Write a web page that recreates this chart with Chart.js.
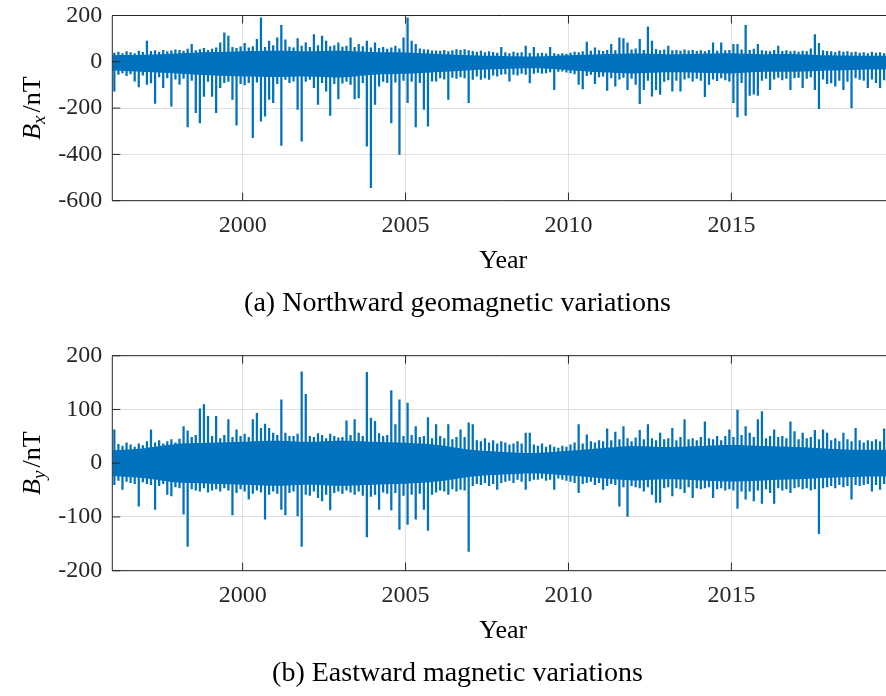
<!DOCTYPE html>
<html>
<head>
<meta charset="utf-8">
<script src="https://cdn.jsdelivr.net/npm/chart.js@4.4.0/dist/chart.umd.min.js"></script>
<style>
  html, body { margin: 0; padding: 0; background: #fff; width: 886px; height: 696px; overflow: hidden; }
  .panel { position: absolute; left: 0; width: 900px; }
  #wrapA { top: 0; height: 328px; }
  #wrapB { top: 328px; height: 368px; }
</style>
</head>
<body>
<div class="panel" id="wrapA"><canvas id="chartA" width="900" height="328"></canvas></div>
<div class="panel" id="wrapB"><canvas id="chartB" width="900" height="368"></canvas></div>
<script>
// ===== Data =====
// Min / max of each 1/8-year bin, 1996.0 .. 2020.0, one row per year
const binStart = 1996;
const binStep = 0.125;

const bxHi = [
  38, 42, 35, 44, 40, 36, 46, 41,
  89, 45, 48, 42, 50, 44, 47, 52,
  50, 46, 55, 75, 48, 53, 58, 50,
  55, 60, 82, 125, 111, 62, 58, 65,
  80, 60, 66, 97, 190, 62, 89, 70,
  104, 157, 95, 64, 60, 100, 68, 82,
  62, 118, 70, 111, 89, 66, 70, 82,
  64, 68, 104, 62, 75, 66, 89, 60,
  82, 58, 62, 55, 60, 68, 56, 104,
  190, 89, 75, 56, 53, 52, 47, 47,
  46, 50, 44, 48, 53, 50, 53, 48,
  45, 42, 46, 40, 44, 41, 38, 63,
  40, 36, 42, 38, 40, 68, 37, 63,
  36, 38, 34, 63, 35, 32, 36, 33,
  38, 42, 40, 44, 85, 46, 60, 48,
  45, 50, 75, 48, 104, 100, 82, 52,
  56, 97, 50, 151, 89, 54, 48, 52,
  68, 48, 50, 46, 52, 47, 50, 45,
  48, 44, 50, 82, 46, 82, 48, 50,
  75, 75, 52, 157, 50, 55, 75, 48,
  46, 44, 50, 68, 45, 48, 44, 46,
  42, 46, 44, 56, 118, 80, 48, 45,
  44, 40, 46, 42, 44, 40, 42, 38,
  40, 36, 42, 38, 40, 36, 42, 40
];
const bxLo = [
  -127, -55, -48, -60, -52, -84, -108, -58,
  -98, -91, -180, -65, -112, -70, -192, -75,
  -98, -72, -281, -80, -220, -264, -150, -85,
  -150, -220, -112, -90, -85, -163, -274, -95,
  -100, -90, -328, -88, -256, -235, -163, -177,
  -95, -361, -76, -90, -84, -206, -343, -85,
  -76, -112, -184, -90, -127, -232, -95, -160,
  -92, -85, -98, -160, -156, -90, -364, -544,
  -184, -105, -85, -90, -264, -88, -400, -80,
  -177, -85, -281, -90, -206, -278, -84, -84,
  -70, -75, -163, -68, -72, -65, -70, -177,
  -76, -62, -76, -70, -76, -58, -62, -55,
  -52, -84, -55, -58, -50, -54, -91, -50,
  -46, -50, -48, -44, -120, -42, -40, -45,
  -48, -52, -98, -117, -60, -55, -94, -65,
  -62, -124, -70, -105, -75, -68, -120, -72,
  -98, -181, -120, -80, -148, -120, -141, -85,
  -78, -127, -80, -127, -75, -70, -84, -72,
  -80, -151, -98, -75, -82, -70, -78, -85,
  -177, -238, -90, -232, -145, -140, -145, -80,
  -72, -120, -75, -68, -78, -72, -120, -70,
  -68, -112, -72, -65, -120, -203, -75, -95,
  -91, -105, -80, -120, -85, -199, -70, -76,
  -80, -112, -75, -90, -112, -78, -85, -80
];

const byHi = [
  62, 35, 32, 38, 34, 30, 36, 33,
  40, 62, 38, 42, 36, 40, 44, 38,
  45, 68, 60, 48, 52, 101, 109, 87,
  50, 87, 46, 52, 81, 48, 62, 50,
  54, 48, 81, 93, 65, 73, 65, 56,
  52, 118, 56, 50, 50, 54, 170, 128,
  50, 48, 55, 52, 46, 54, 50, 47,
  48, 79, 52, 81, 56, 50, 169, 84,
  78, 55, 50, 52, 135, 72, 118, 50,
  112, 52, 68, 48, 50, 85, 46, 72,
  50, 46, 72, 44, 48, 62, 48, 75,
  72, 42, 40, 46, 38, 42, 36, 40,
  38, 34, 36, 40, 36, 56, 56, 34,
  32, 36, 30, 34, 30, 28, 32, 30,
  34, 38, 72, 36, 53, 40, 38, 42,
  40, 64, 42, 58, 44, 68, 46, 40,
  47, 61, 44, 72, 46, 42, 56, 44,
  46, 65, 42, 48, 81, 44, 46, 42,
  48, 77, 46, 44, 50, 42, 50, 62,
  48, 99, 52, 68, 56, 48, 81, 96,
  46, 50, 62, 48, 50, 46, 77, 59,
  44, 56, 46, 48, 61, 44, 62, 56,
  42, 46, 40, 56, 44, 40, 65, 42,
  38, 42, 40, 44, 40, 64, 42, 40
];
const byLo = [
  -40, -32, -49, -34, -36, -38, -80, -35,
  -38, -40, -86, -42, -38, -58, -61, -44,
  -46, -95, -155, -48, -50, -52, -46, -54,
  -50, -48, -52, -46, -50, -96, -55, -48,
  -52, -67, -56, -50, -54, -104, -58, -52,
  -56, -86, -96, -55, -52, -98, -155, -58,
  -60, -52, -64, -70, -58, -87, -55, -52,
  -56, -50, -54, -58, -52, -60, -137, -62,
  -58, -86, -54, -56, -87, -55, -123, -60,
  -114, -58, -104, -56, -86, -125, -58, -54,
  -50, -52, -58, -48, -52, -49, -50, -164,
  -42, -38, -40, -36, -42, -38, -49, -36,
  -34, -32, -36, -30, -34, -49, -33, -30,
  -30, -28, -32, -30, -49, -28, -30, -32,
  -34, -36, -55, -38, -36, -34, -40, -36,
  -49, -42, -38, -40, -80, -44, -99, -42,
  -44, -46, -52, -44, -58, -73, -73, -46,
  -44, -61, -46, -48, -55, -44, -64, -46,
  -48, -46, -44, -64, -48, -46, -50, -48,
  -50, -84, -52, -67, -52, -70, -50, -75,
  -48, -55, -75, -46, -50, -48, -55, -46,
  -44, -48, -46, -50, -48, -131, -46, -44,
  -42, -46, -40, -44, -42, -67, -40, -42,
  -40, -38, -52, -40, -49, -38, -42, -40
];

// Dense core of the trace, one value per year boundary 1996 .. 2020
const coreYears = [1996, 1997, 1998, 1999, 2000, 2001, 2002, 2003, 2004, 2005, 2006, 2007, 2008,
  2009, 2010, 2011, 2012, 2013, 2014, 2015, 2016, 2017, 2018, 2019, 2020];
const bxCoreHi = [28, 30, 36, 42, 46, 48, 46, 48, 42, 40, 34, 28, 25, 23, 28, 33, 36, 33, 35, 37, 33, 33, 28, 26, 26];
const bxCoreLo = [-38, -44, -50, -58, -64, -66, -64, -68, -56, -52, -44, -36, -31, -28, -36, -45, -50, -45, -47, -50, -43, -43, -38, -34, -34];
const byCoreHi = [24, 28, 36, 38, 40, 42, 40, 42, 40, 38, 34, 25, 21, 19, 23, 28, 32, 30, 32, 34, 32, 30, 27, 25, 25];
const byCoreLo = [-24, -28, -36, -38, -40, -42, -40, -42, -40, -38, -34, -25, -21, -19, -23, -28, -32, -30, -32, -34, -32, -30, -27, -25, -25];

const yearTicks = [2000, 2005, 2010, 2015];
const bxTicks = [-600, -400, -200, 0, 200];
const byTicks = [-200, -100, 0, 100, 200];

// ===== Styling =====
const BLUE = '#0072BD';
const AXIS = '#262626';
const FONT = 'Liberation Serif';

// Box, inward ticks and the text around each axes (MATLAB look)
const framePlugin = {
  id: 'frame',
  afterDatasetsDraw(chart, args, opts) {
    const { ctx, chartArea: a, scales: { x, y } } = chart;
    ctx.save();
    ctx.strokeStyle = AXIS;
    ctx.lineWidth = 1;
    ctx.beginPath();
    ctx.rect(a.left, a.top, a.right - a.left, a.bottom - a.top);
    yearTicks.forEach(v => {
      const px = x.getPixelForValue(v);
      ctx.moveTo(px, a.bottom); ctx.lineTo(px, a.bottom - 8);
      ctx.moveTo(px, a.top); ctx.lineTo(px, a.top + 8);
    });
    opts.yTicks.forEach(v => {
      const py = y.getPixelForValue(v);
      ctx.moveTo(a.left, py); ctx.lineTo(a.left + 8, py);
      ctx.moveTo(a.right, py); ctx.lineTo(a.right - 8, py);
    });
    ctx.stroke();

    // x label and caption
    ctx.fillStyle = '#000';
    ctx.textAlign = 'center';
    ctx.textBaseline = 'alphabetic';
    ctx.font = `26px "${FONT}"`;
    ctx.fillText('Year', (a.left + a.right) / 2, a.bottom + 67);
    ctx.font = `28px "${FONT}"`;
    ctx.fillText(opts.caption, 457.5, a.bottom + 110);

    // rotated y label: B_sub /nT
    const cy = (a.top + a.bottom) / 2;
    ctx.translate(40, cy);
    ctx.rotate(-Math.PI / 2);
    ctx.textAlign = 'left';
    const fB = `italic 26px "${FONT}"`, fS = `italic 19px "${FONT}"`, fT = `26px "${FONT}"`;
    ctx.font = fB; const wB = ctx.measureText('B').width;
    ctx.font = fS; const wS = ctx.measureText(opts.sub).width;
    ctx.font = fT; const wT = ctx.measureText('/nT').width;
    let sx = -(wB + wS + 3 + wT) / 2;
    ctx.font = fB; ctx.fillText('B', sx, 0); sx += wB;
    ctx.font = fS; ctx.fillText(opts.sub, sx, 5); sx += wS + 3;
    ctx.font = fT; ctx.fillText('/nT', sx, 0);
    ctx.restore();
  }
};

function makePanel(canvasId, hi, lo, coreHi, coreLo, yMin, yMax, yStep, yTicks, sub, caption, padTop, plotBottom) {
  const canvas = document.getElementById(canvasId);
  const bars = hi.map((h, i) => ({ x: binStart + (i + 0.5) * binStep, y: [lo[i], h] }));
  const cLo = coreYears.map((t, i) => ({ x: t, y: coreLo[i] }));
  const cHi = coreYears.map((t, i) => ({ x: t, y: coreHi[i] }));

  return new Chart(canvas, {
    type: 'bar',
    data: {
      datasets: [
        { type: 'line', data: cLo, borderWidth: 0, pointRadius: 0, fill: false, borderColor: BLUE, tension: 0.3 },
        { type: 'line', data: cHi, borderWidth: 0, pointRadius: 0, fill: '-1', borderColor: BLUE, backgroundColor: BLUE, tension: 0.3 },
        { data: bars, backgroundColor: BLUE, borderWidth: 0, barThickness: 1.6 }
      ]
    },
    options: {
      responsive: false,
      animation: false,
      devicePixelRatio: 1,
      layout: { padding: { left: 0, right: 5.7, top: padTop, bottom: 0 } },
      plugins: {
        legend: { display: false },
        tooltip: { enabled: false },
        frame: { yTicks, sub, caption }
      },
      scales: {
        x: {
          type: 'linear',
          min: 1996, max: 2020,
          offset: false,
          afterBuildTicks: s => { s.ticks = yearTicks.map(v => ({ value: v })); },
          afterFit: s => { s.height = canvas.height - plotBottom; s.paddingLeft = 0; s.paddingRight = 0; },
          grid: { color: '#e0e0e0', drawTicks: false, offset: false },
          border: { display: false },
          ticks: { color: AXIS, font: { family: FONT, size: 24 }, padding: 11, maxRotation: 0, callback: v => String(v) }
        },
        y: {
          min: yMin, max: yMax,
          afterBuildTicks: s => { s.ticks = yTicks.map(v => ({ value: v })); },
          afterFit: s => { s.width = 112.3; s.paddingTop = 0; s.paddingBottom = 0; },
          grid: { color: '#e0e0e0', drawTicks: false },
          border: { display: false },
          ticks: { color: AXIS, font: { family: FONT, size: 24 }, padding: 10, stepSize: yStep }
        }
      }
    },
    plugins: [framePlugin]
  });
}

makePanel('chartA', bxHi, bxLo, bxCoreHi, bxCoreLo, -600, 200, 200, bxTicks, 'x',
  '(a) Northward geomagnetic variations', 15.5, 200.7);
makePanel('chartB', byHi, byLo, byCoreHi, byCoreLo, -200, 200, 100, byTicks, 'y',
  '(b) Eastward magnetic variations', 27.7, 242.7);
</script>
</body>
</html>
